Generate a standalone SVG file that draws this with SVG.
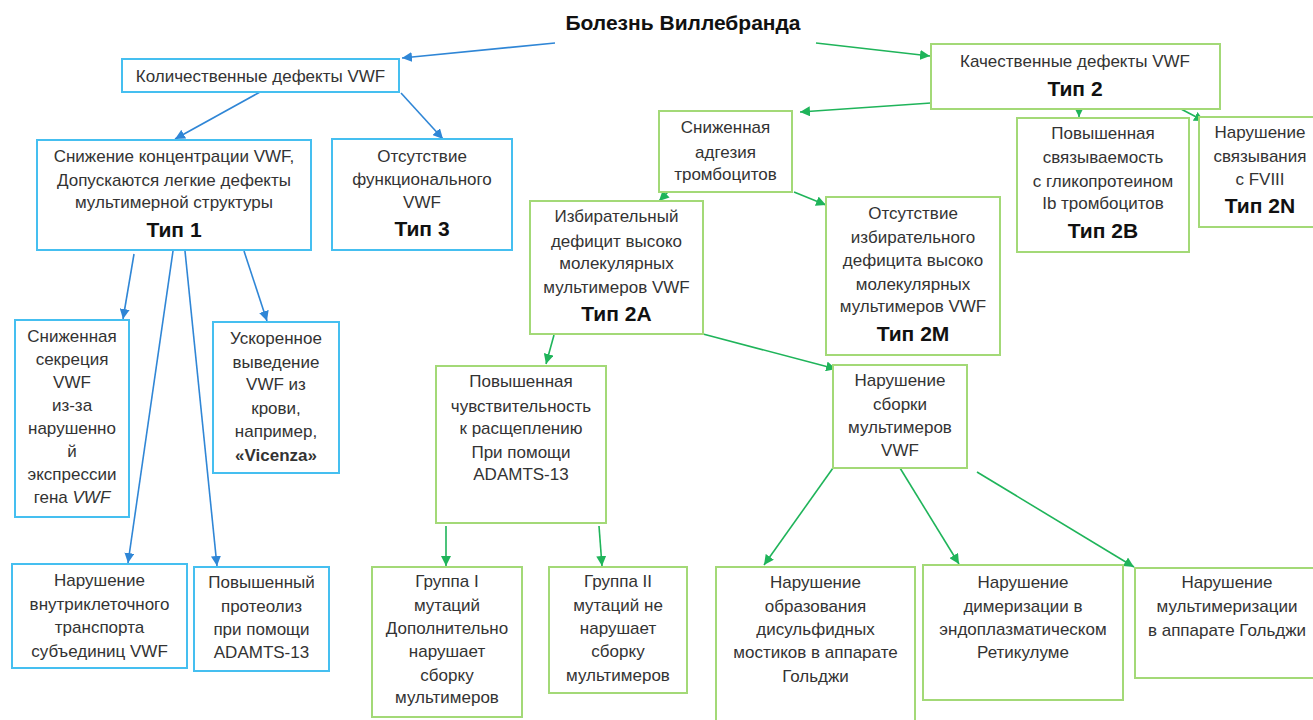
<svg xmlns="http://www.w3.org/2000/svg" width="1313" height="720" viewBox="0 0 1313 720">
  <style>
    text { font-family: "Liberation Sans", Arial, sans-serif; font-size: 17px; fill: #333; text-anchor: middle; }
    text.b { font-weight: bold; font-size: 21px; fill: #111; }
    text.title { font-weight: bold; font-size: 21px; fill: #111; }
    .bb { fill: #fff; stroke: #45bff0; stroke-width: 2; }
    .gb { fill: #fff; stroke: #a3d977; stroke-width: 2; }
    .bl { stroke: #2f86d6; stroke-width: 1.6; fill: none; marker-end: url(#ab); }
    .gl { stroke: #1fb45a; stroke-width: 1.6; fill: none; marker-end: url(#ag); }
  </style>
  <defs>
    <marker id="ab" markerUnits="userSpaceOnUse" markerWidth="11" markerHeight="10" refX="10" refY="5" orient="auto">
      <path d="M0,0 L10,5 L0,10 z" fill="#2f86d6"/>
    </marker>
    <marker id="ag" markerUnits="userSpaceOnUse" markerWidth="11" markerHeight="10" refX="10" refY="5" orient="auto">
      <path d="M0,0 L10,5 L0,10 z" fill="#1fb45a"/>
    </marker>
  </defs>
  <rect width="1313" height="720" fill="#fff"/>

  <!-- connectors -->
  <g id="connectors">
    <line class="bl" x1="555" y1="43" x2="402" y2="58"/>
    <line class="gl" x1="816" y1="43" x2="930" y2="56"/>
    <line class="bl" x1="260" y1="92" x2="175" y2="139"/>
    <line class="bl" x1="401" y1="93" x2="443" y2="139"/>
    <line class="bl" x1="134" y1="254" x2="123" y2="319"/>
    <line class="bl" x1="173" y1="251" x2="128" y2="563"/>
    <line class="bl" x1="185" y1="251" x2="217" y2="566"/>
    <line class="bl" x1="244" y1="251" x2="267" y2="321"/>
    <line class="gl" x1="931" y1="103" x2="800" y2="112"/>
    <line class="gl" x1="1079" y1="103" x2="1079" y2="117"/>
    <line class="gl" x1="1181" y1="109" x2="1204" y2="121"/>
    <line class="gl" x1="669" y1="191" x2="659" y2="201"/>
    <line class="gl" x1="794" y1="192" x2="826" y2="205"/>
    <line class="gl" x1="554" y1="335" x2="546" y2="364"/>
    <line class="gl" x1="703" y1="334" x2="836" y2="369"/>
    <line class="gl" x1="446" y1="526" x2="446" y2="566"/>
    <line class="gl" x1="599" y1="526" x2="602" y2="566"/>
    <line class="gl" x1="833" y1="468" x2="764" y2="565"/>
    <line class="gl" x1="900" y1="468" x2="959" y2="564"/>
    <line class="gl" x1="977" y1="472" x2="1134" y2="567"/>
  </g>

  <g id="title">
    <text class="title" x="683" y="30">Болезнь Виллебранда</text>
  </g>

  <g id="quantitative">
    <rect class="bb" x="122" y="59" width="277" height="33"/>
    <text x="260.5" y="82">Количественные дефекты VWF</text>
  </g>

  <g id="type1">
    <rect class="bb" x="37" y="140" width="274" height="110"/>
    <text x="174" y="162">Снижение концентрации VWF,</text>
    <text x="174" y="186">Допускаются легкие дефекты</text>
    <text x="174" y="208">мультимерной структуры</text>
    <text class="b" x="174" y="237">Тип 1</text>
  </g>

  <g id="type3">
    <rect class="bb" x="332" y="139" width="180" height="111"/>
    <text x="422" y="162">Отсутствие</text>
    <text x="422" y="185">функционального</text>
    <text x="422" y="208">VWF</text>
    <text class="b" x="422" y="236">Тип 3</text>
  </g>

  <g id="secretion">
    <rect class="bb" x="15" y="320" width="114" height="197"/>
    <text x="72" y="342">Сниженная</text>
    <text x="72" y="365">секреция</text>
    <text x="72" y="388">VWF</text>
    <text x="72" y="411">из-за</text>
    <text x="72" y="434">нарушенно</text>
    <text x="72" y="457">й</text>
    <text x="72" y="480">экспрессии</text>
    <text x="72" y="503">гена <tspan font-style="italic">VWF</tspan></text>
  </g>

  <g id="clearance">
    <rect class="bb" x="213" y="322" width="126" height="151"/>
    <text x="276" y="344">Ускоренное</text>
    <text x="276" y="368">выведение</text>
    <text x="276" y="390">VWF из</text>
    <text x="276" y="414">крови,</text>
    <text x="276" y="437">например,</text>
    <text x="276" y="461" font-weight="bold" fill="#111">«Vicenza»</text>
  </g>

  <g id="transport">
    <rect class="bb" x="12" y="564" width="175" height="104"/>
    <text x="99.5" y="586">Нарушение</text>
    <text x="99.5" y="610">внутриклеточного</text>
    <text x="99.5" y="633">транспорта</text>
    <text x="99.5" y="657">субъединиц VWF</text>
  </g>

  <g id="proteolysis">
    <rect class="bb" x="194" y="567" width="135" height="104"/>
    <text x="261.5" y="588">Повышенный</text>
    <text x="261.5" y="612">протеолиз</text>
    <text x="261.5" y="635">при помощи</text>
    <text x="261.5" y="658">ADAMTS-13</text>
  </g>

  <g id="type2">
    <rect class="gb" x="931" y="44" width="289" height="65"/>
    <text x="1075" y="67">Качественные дефекты VWF</text>
    <text class="b" x="1075" y="96">Тип 2</text>
  </g>

  <g id="adhesion">
    <rect class="gb" x="659" y="111" width="133" height="81"/>
    <text x="725.5" y="133">Сниженная</text>
    <text x="725.5" y="158">адгезия</text>
    <text x="725.5" y="180">тромбоцитов</text>
  </g>

  <g id="type2b">
    <rect class="gb" x="1017" y="118" width="172" height="134"/>
    <text x="1103" y="139">Повышенная</text>
    <text x="1103" y="163">связываемость</text>
    <text x="1103" y="187">с гликопротеином</text>
    <text x="1103" y="209">Ib тромбоцитов</text>
    <text class="b" x="1103" y="238">Тип 2B</text>
  </g>

  <g id="type2n">
    <rect class="gb" x="1199" y="117" width="118" height="110"/>
    <text x="1260" y="138">Нарушение</text>
    <text x="1260" y="162">связывания</text>
    <text x="1260" y="185">с FVIII</text>
    <text class="b" x="1260" y="213">Тип 2N</text>
  </g>

  <g id="type2a">
    <rect class="gb" x="530" y="201" width="173" height="133"/>
    <text x="616.5" y="222">Избирательный</text>
    <text x="616.5" y="247">дефицит высоко</text>
    <text x="616.5" y="269">молекулярных</text>
    <text x="616.5" y="293">мультимеров VWF</text>
    <text class="b" x="616.5" y="321">Тип 2A</text>
  </g>

  <g id="type2m">
    <rect class="gb" x="826" y="197" width="174" height="158"/>
    <text x="913" y="219">Отсутствие</text>
    <text x="913" y="243">избирательного</text>
    <text x="913" y="266">дефицита высоко</text>
    <text x="913" y="290">молекулярных</text>
    <text x="913" y="312">мультимеров VWF</text>
    <text class="b" x="913" y="341">Тип 2M</text>
  </g>

  <g id="assembly">
    <rect class="gb" x="833" y="365" width="134" height="103"/>
    <text x="900" y="386">Нарушение</text>
    <text x="900" y="410">сборки</text>
    <text x="900" y="433">мультимеров</text>
    <text x="900" y="456">VWF</text>
  </g>

  <g id="cleavage">
    <rect class="gb" x="436" y="366" width="170" height="157"/>
    <text x="521" y="387">Повышенная</text>
    <text x="521" y="412">чувствительность</text>
    <text x="521" y="434">к расщеплению</text>
    <text x="521" y="458">При помощи</text>
    <text x="521" y="480">ADAMTS-13</text>
  </g>

  <g id="group1">
    <rect class="gb" x="372" y="567" width="150" height="150"/>
    <text x="447" y="587">Группа I</text>
    <text x="447" y="611">мутаций</text>
    <text x="447" y="634">Дополнительно</text>
    <text x="447" y="657">нарушает</text>
    <text x="447" y="681">сборку</text>
    <text x="447" y="703">мультимеров</text>
  </g>

  <g id="group2">
    <rect class="gb" x="549" y="567" width="138" height="126"/>
    <text x="618" y="587">Группа II</text>
    <text x="618" y="611">мутаций не</text>
    <text x="618" y="634">нарушает</text>
    <text x="618" y="657">сборку</text>
    <text x="618" y="681">мультимеров</text>
  </g>

  <g id="disulfide">
    <rect class="gb" x="716" y="567" width="199" height="160"/>
    <text x="815.5" y="588">Нарушение</text>
    <text x="815.5" y="612">образования</text>
    <text x="815.5" y="635">дисульфидных</text>
    <text x="815.5" y="658">мостиков в аппарате</text>
    <text x="815.5" y="682">Гольджи</text>
  </g>

  <g id="dimerization">
    <rect class="gb" x="923" y="565" width="200" height="135"/>
    <text x="1023" y="588">Нарушение</text>
    <text x="1023" y="612">димеризации в</text>
    <text x="1023" y="635">эндоплазматическом</text>
    <text x="1023" y="658">Ретикулуме</text>
  </g>

  <g id="multimerization">
    <rect class="gb" x="1135" y="568" width="183" height="110"/>
    <text x="1227" y="588">Нарушение</text>
    <text x="1227" y="612">мультимеризации</text>
    <text x="1227" y="636">в аппарате Гольджи</text>
  </g>
</svg>
